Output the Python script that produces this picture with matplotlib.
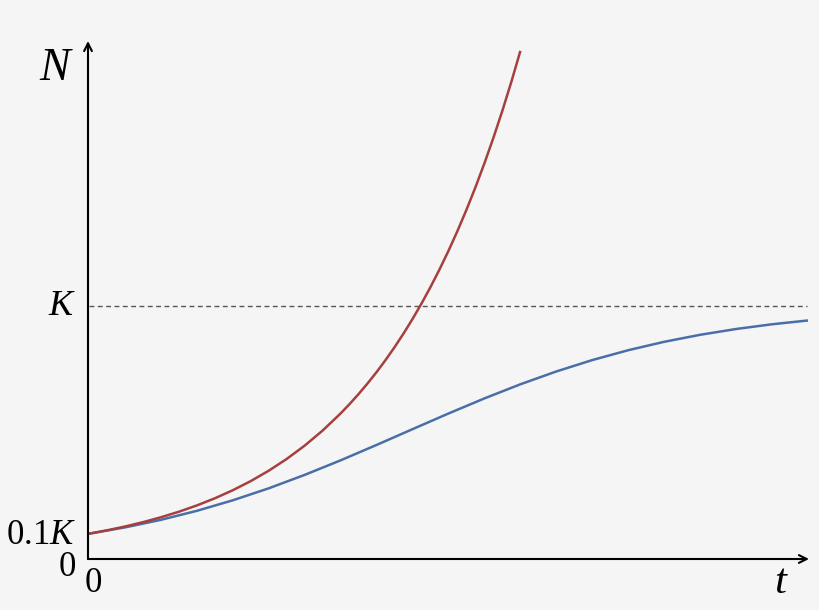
import matplotlib
matplotlib.use("Agg")
from matplotlib import pyplot as plt

# exponential growth (red)
t_exp = [0.0, 0.25, 0.5, 0.75, 1.0, 1.25, 1.5, 1.75, 2.0, 2.25, 2.5, 2.75,
         3.0, 3.25, 3.5, 3.625, 3.75, 3.875, 4.0, 4.125, 4.25, 4.375, 4.5,
         4.625, 4.75, 4.875, 5.0, 5.125, 5.25, 5.375, 5.5, 5.625, 5.75,
         5.875, 6.0]
n_exp = [0.1000, 0.1133, 0.1284, 0.1455, 0.1649, 0.1868, 0.2117, 0.2399,
         0.2718, 0.3080, 0.3490, 0.3955, 0.4482, 0.5078, 0.5755, 0.6126,
         0.6521, 0.6942, 0.7389, 0.7866, 0.8373, 0.8913, 0.9488, 1.0100,
         1.0751, 1.1445, 1.2182, 1.2968, 1.3805, 1.4695, 1.5643, 1.6652,
         1.7725, 1.8868, 2.0086]

# logistic growth (blue), t step 0.5
t_log = [i * 0.5 for i in range(21)]
n_log = [0.1000, 0.1249, 0.1548, 0.1904, 0.2320, 0.2794, 0.3325, 0.3900,
         0.4509, 0.5132, 0.5751, 0.6348, 0.6906, 0.7413, 0.7863, 0.8253,
         0.8585, 0.8862, 0.9091, 0.9278, 0.9428]

carrying_capacity = 1.0
y_tick_vals = [0.1, 0.0, 1.0]
y_tick_labels = [r"$\mathrm{0.1}K$", "0", r"$K$"]

plt.rcParams["mathtext.fontset"] = "custom"
plt.rcParams["mathtext.rm"] = "Liberation Serif"
plt.rcParams["mathtext.it"] = "Liberation Serif:italic"

BG = "#f5f5f5"
RED = "#a5403f"
BLUE = "#4a6fa8"

fig = plt.figure(figsize=(8.2, 6.1), dpi=100, facecolor=BG)
ax = fig.add_axes([0, 0, 1, 1])
ax.set_facecolor(BG)

# pixel mapping: t=0 at x=89, 71.9 px per unit; N=0 at 51 px from bottom, K = 253 px
px_t, px_n = 71.9, 253.0
ax.set_xlim(-89 / px_t, (820 - 89) / px_t)
ax.set_ylim(-51 / px_n, (610 - 51) / px_n)
ax.axis("off")

# axes with arrows
ax.annotate("", xy=(-1 / px_t, (559 - 41) / px_n), xytext=(-1 / px_t, 0),
            arrowprops=dict(arrowstyle="->", color="black", lw=1.5,
                            mutation_scale=14, shrinkA=0, shrinkB=0))
ax.annotate("", xy=((809 - 89) / px_t, 0), xytext=(-1 / px_t, 0),
            arrowprops=dict(arrowstyle="->", color="black", lw=1.5,
                            mutation_scale=14, shrinkA=0, shrinkB=0))

ax.plot([0, (807 - 89) / px_t], [carrying_capacity] * 2, color="#555555",
        lw=1.0, ls=(0, (3.5, 2.5)))

ax.plot(t_log, n_log, color=BLUE, lw=1.8, solid_capstyle="butt")
ax.plot(t_exp, n_exp, color=RED, lw=1.8, solid_capstyle="butt")

serif = "Liberation Serif"
ax.text(-34 / px_t, (559 - 69) / px_n, "N", fontsize=33, family=serif,
        style="italic", ha="center", va="center")
ax.text((780 - 89) / px_t, -24 / px_n, "t", fontsize=31, family=serif,
        style="italic", ha="center", va="center")
ax.text(4 / px_t, -25 / px_n, "0", fontsize=25, family=serif,
        ha="center", va="center")

# y labels: 0.1K, 0, K
y_label_px = [-2, -9, 0]
y_label_size = [25, 25, 26]
for val, lab, dy, fs in zip(y_tick_vals, y_tick_labels, y_label_px, y_label_size):
    ax.text(-13 / px_t, val + dy / px_n, lab, fontsize=fs, family=serif,
            ha="right", va="center")

fig.savefig("out.png", dpi=100, facecolor=BG)
